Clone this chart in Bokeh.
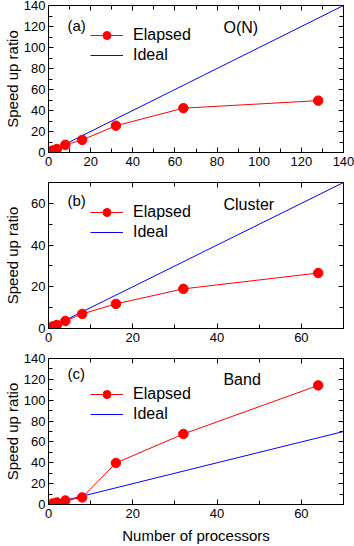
from bokeh.plotting import figure
from bokeh.layouts import column
from bokeh.models import (Range1d, LinearAxis, SingleIntervalTicker, Legend,
                          LegendItem, Label, CustomJSTickFormatter)
from bokeh.embed import file_html
from bokeh.resources import INLINE

# ---- data ----
procs_a = [1, 2, 4, 8, 16, 32, 64, 128]
speed_a = [1.0, 1.9, 3.3, 7.3, 12.0, 25.5, 42.2, 49.4]
ideal_a = [1, 140]

procs_b = [1, 2, 4, 8, 16, 32, 64]
speed_b = [1.0, 1.7, 3.6, 7.0, 11.8, 19.0, 26.6]
ideal_b = [1, 70]

procs_c = [1, 2, 4, 8, 16, 32, 64]
speed_c = [1.0, 1.9, 3.8, 6.8, 39.8, 67.6, 114.2]
ideal_c = [1, 70]

panel_tags = ["(a)", "(b)", "(c)"]
panel_names = ["O(N)", "Cluster", "Band"]
x_max = [140, 70, 70]
y_max = [140, 70, 140]

FONT = "Liberation Sans"
W = 354


def make_panel(px, py, ideal, xm, ym, tag, name, height, top, bottom,
               ylab_standoff, show_xlabel, legend_y, tag_y, name_y):
    p = figure(width=W, height=height, output_backend="svg",
               toolbar_location=None, x_range=Range1d(0, xm),
               y_range=Range1d(0, ym), min_border_left=48,
               min_border_right=11, min_border_top=top,
               min_border_bottom=bottom)
    p.xgrid.visible = False
    p.ygrid.visible = False
    p.outline_line_color = "black"
    p.outline_line_width = 1
    p.background_fill_color = "white"
    p.border_fill_color = "white"

    for ax in p.xaxis:
        ax.ticker = SingleIntervalTicker(interval=20, num_minor_ticks=2)
    for ax in p.yaxis:
        ax.ticker = SingleIntervalTicker(interval=20, num_minor_ticks=2)

    def style(ax, labels=True):
        ax.axis_line_color = "black"
        ax.major_tick_in = 5
        ax.major_tick_out = 0
        ax.minor_tick_in = 4
        ax.minor_tick_out = 0
        ax.major_tick_line_color = "black"
        ax.minor_tick_line_color = "black"
        if labels:
            ax.major_label_text_font = FONT
            ax.major_label_text_font_size = "13px"
            ax.major_label_text_color = "black"
        else:
            ax.formatter = CustomJSTickFormatter(code="return ''")
            ax.major_label_standoff = 0

    style(p.xaxis[0])
    style(p.yaxis[0])
    p.xaxis[0].major_label_standoff = 4
    p.yaxis[0].major_label_standoff = 3
    p.yaxis[0].axis_label = "Speed up ratio"
    p.yaxis[0].axis_label_text_font = FONT
    p.yaxis[0].axis_label_text_font_size = "15px"
    p.yaxis[0].axis_label_text_font_style = "normal"
    p.yaxis[0].axis_label_text_color = "black"
    p.yaxis[0].axis_label_standoff = ylab_standoff
    if show_xlabel:
        p.xaxis[0].axis_label = "Number of processors"
        p.xaxis[0].axis_label_text_font = FONT
        p.xaxis[0].axis_label_text_font_size = "15px"
        p.xaxis[0].axis_label_text_font_style = "normal"
        p.xaxis[0].axis_label_text_color = "black"
        p.xaxis[0].axis_label_standoff = 6

    top_ax = LinearAxis(ticker=SingleIntervalTicker(interval=20, num_minor_ticks=2))
    right_ax = LinearAxis(ticker=SingleIntervalTicker(interval=20, num_minor_ticks=2))
    style(top_ax, labels=False)
    style(right_ax, labels=False)
    p.add_layout(top_ax, "above")
    p.add_layout(right_ax, "right")

    ideal_r = p.line(ideal, ideal, line_color="#0000ff", line_width=1)
    el_line = p.line(px, py, line_color="#ff0000", line_width=1)
    el_pts = p.scatter(px, py, size=9.5, fill_color="#ff0000",
                       line_color="#ff0000", marker="circle")

    legend = Legend(items=[LegendItem(label="Elapsed", renderers=[el_line, el_pts]),
                           LegendItem(label="Ideal", renderers=[ideal_r])],
                    location=(42, legend_y))
    legend.border_line_color = None
    legend.background_fill_alpha = 0
    legend.padding = 0
    legend.margin = 0
    legend.spacing = 0
    legend.glyph_width = 33
    legend.glyph_height = 20
    legend.label_height = 20
    legend.label_standoff = 10
    legend.label_text_font = FONT
    legend.label_text_font_size = "16px"
    legend.label_text_color = "black"
    p.add_layout(legend, "center")

    p.add_layout(Label(x=0.064 * xm, y=ym * tag_y, text=tag,
                       text_font=FONT, text_font_size="15px",
                       text_align="left", text_baseline="middle",
                       text_color="black"))
    p.add_layout(Label(x=0.593 * xm, y=ym * name_y, text=name,
                       text_font=FONT, text_font_size="16px",
                       text_align="left", text_baseline="middle",
                       text_color="black"))
    return p


pa = make_panel(procs_a, speed_a, ideal_a, x_max[0], y_max[0],
                panel_tags[0], panel_names[0], 175, 5, 23, 0, False, 87,
                0.865, 0.85)
pb = make_panel(procs_b, speed_b, ideal_b, x_max[1], y_max[1],
                panel_tags[1], panel_names[1], 177, 7, 24, 7, False, 86,
                0.877, 0.85)
pc = make_panel(procs_c, speed_c, ideal_c, x_max[2], y_max[2],
                panel_tags[2], panel_names[2], 194, 6, 42, 0, True, 80,
                0.895, 0.856)

layout = column(pa, pb, pc, spacing=0)
open("out.html", "w").write(file_html(layout, INLINE))
